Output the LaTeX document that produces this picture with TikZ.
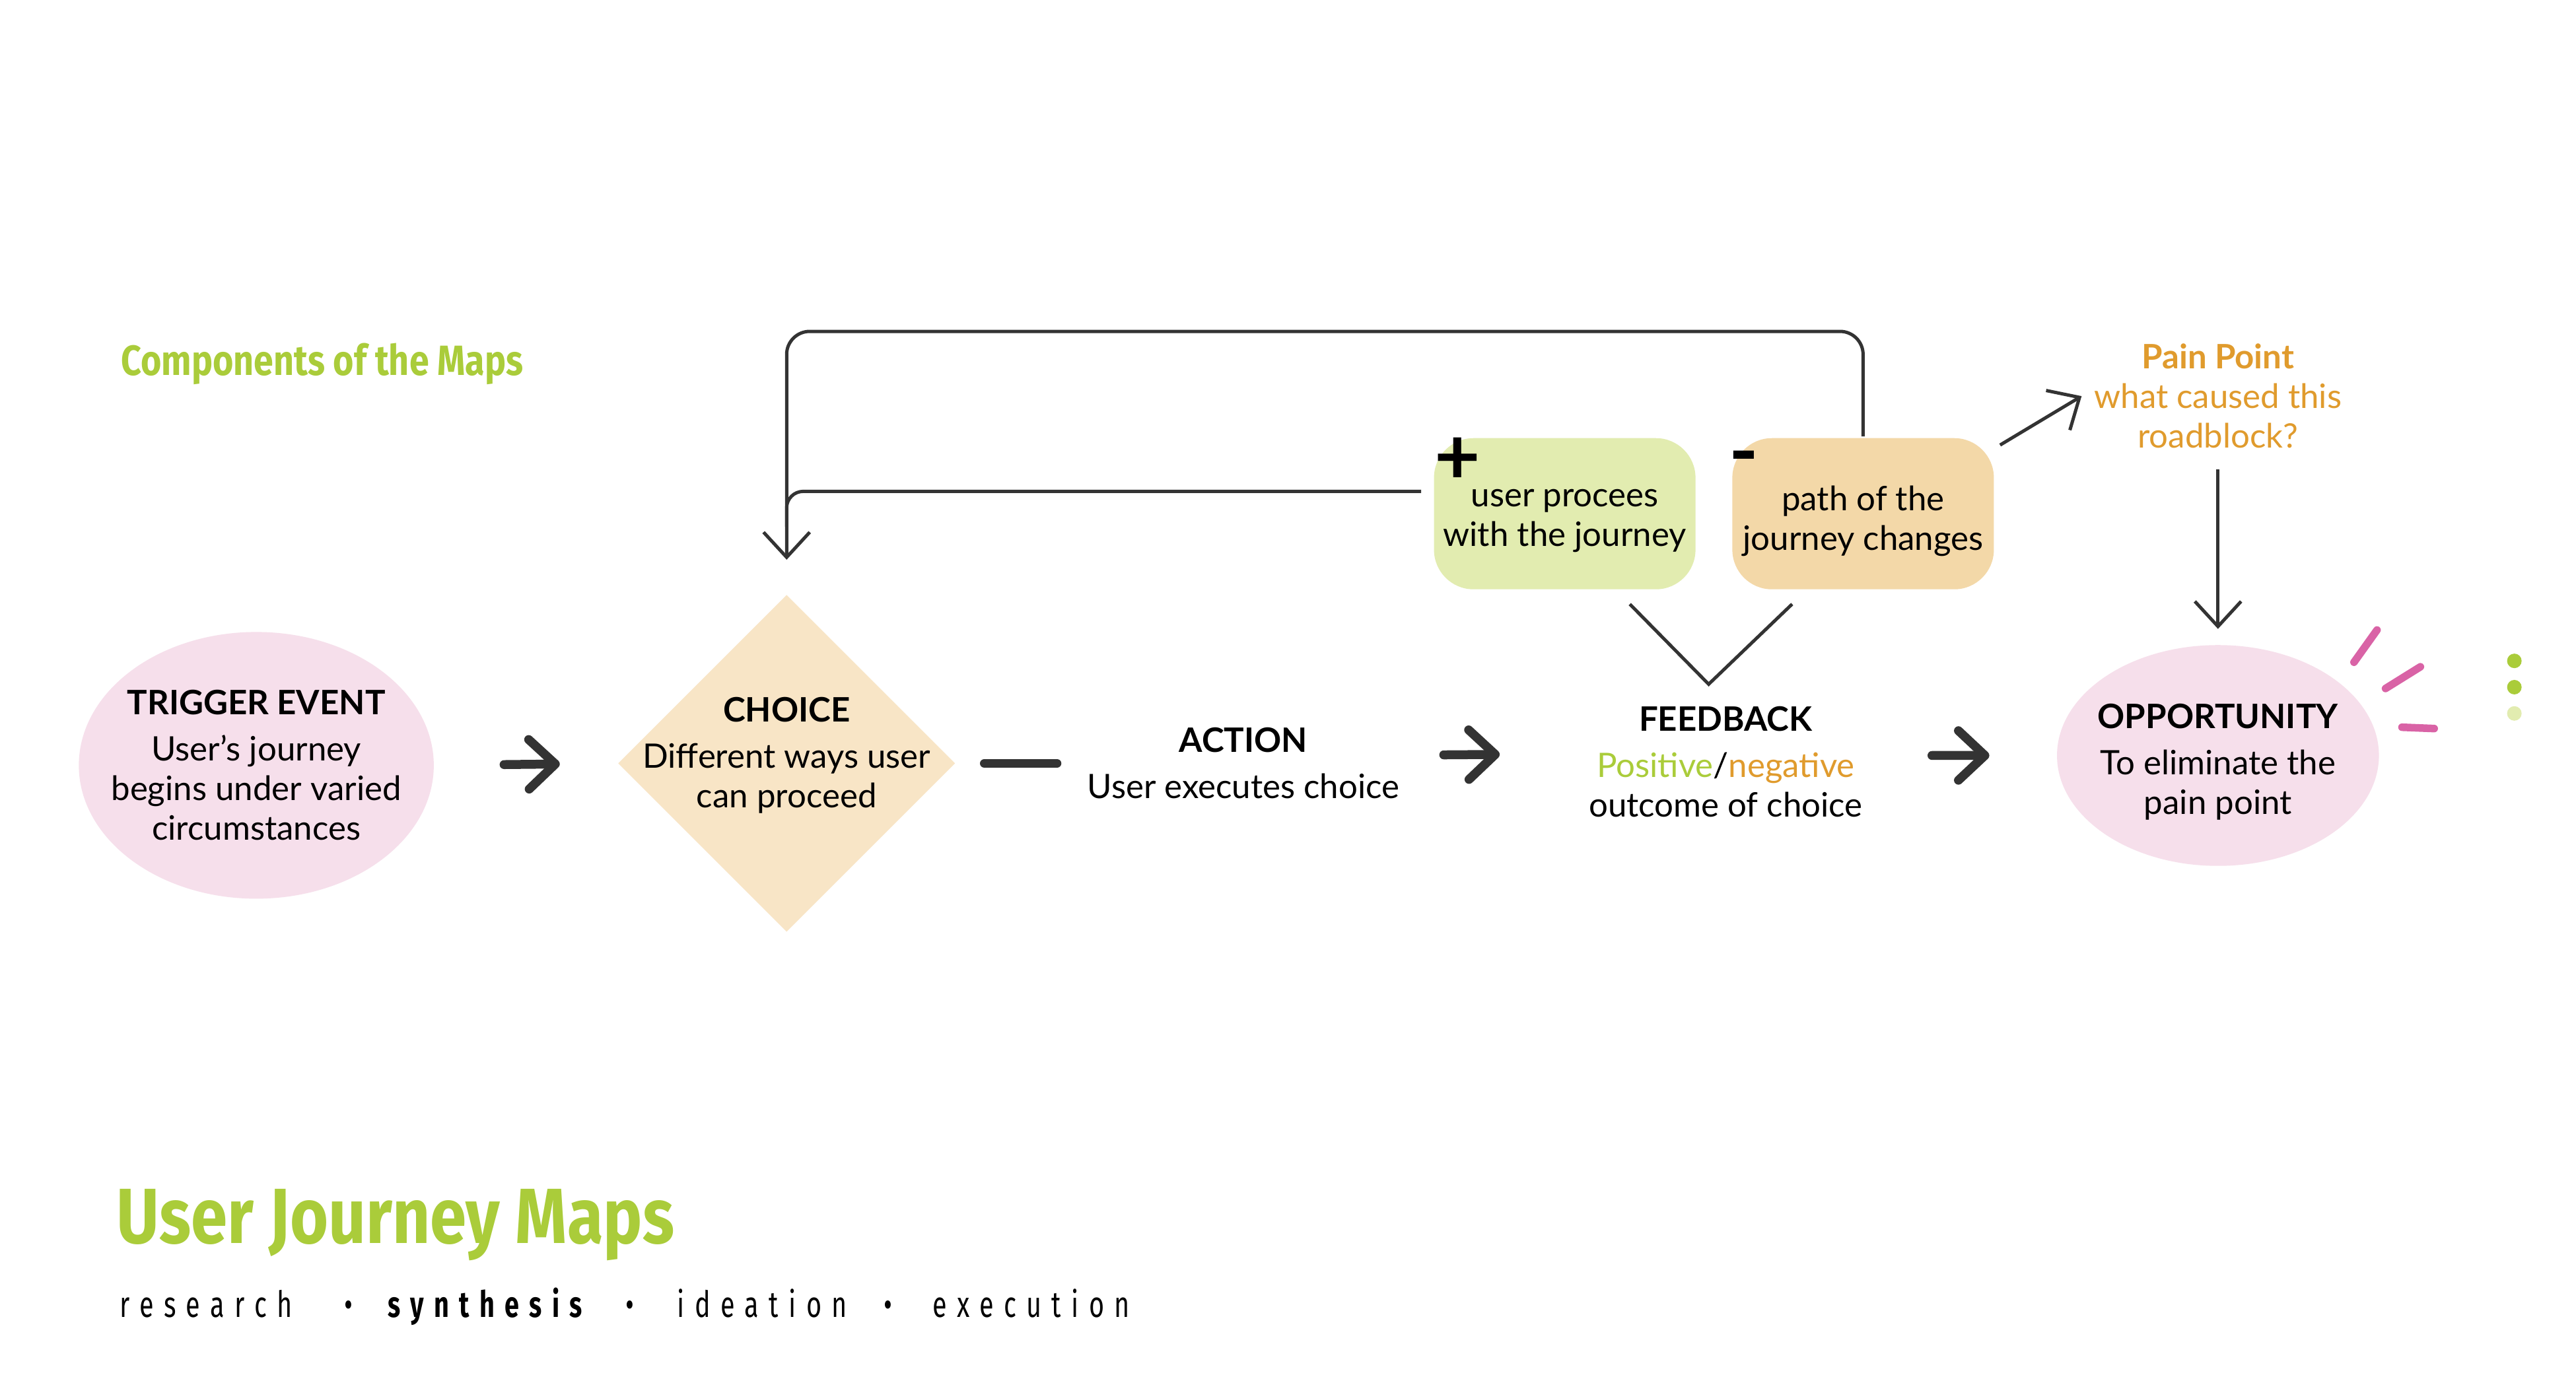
\documentclass[tikz,border=0pt]{standalone}
\usepackage{fontspec}
\setmainfont{Lato}
\newfontfamily\mapsfont[FakeStretch=0.84]{Fira Sans}
\newfontfamily\stepsfont[FakeStretch=0.72,LetterSpace=28]{Fira Sans}
\usetikzlibrary{shapes.geometric,arrows.meta}

\definecolor{mapgreen}{RGB}{170,204,58}
\definecolor{palegreen}{RGB}{226,236,176}
\definecolor{paleorange}{RGB}{243,216,168}
\definecolor{painorange}{RGB}{224,155,45}
\definecolor{choicefill}{RGB}{248,229,198}
\definecolor{blush}{RGB}{246,223,235}
\definecolor{ink}{RGB}{51,51,51}
\definecolor{spark}{RGB}{217,99,166}

\tikzset{every picture/.style={line width=1pt}}
\tikzset{
	body text/.style={font=\fontsize{10.2}{12}\selectfont, align=center},
	event/.style={ellipse, fill=blush, inner sep=0pt},
	choicebox/.style={diamond, fill=choicefill, inner sep=0pt, minimum width=102.4pt, minimum height=102.4pt},
	outcome/.style={rectangle, rounded corners=12pt, minimum width=79.2pt, minimum height=45.8pt, inner sep=0pt},
	thin link/.style={draw=ink, line width=1pt, -{Straight Barb[length=7.6pt,width=14pt]}},
	chevron/.style={draw=ink, line width=2.7pt, line cap=round, -{Straight Barb[length=8pt,width=15pt,round]}},
	dashbar/.style={draw=ink, line width=2.7pt, line cap=round},
	sparkline/.style={draw=spark, line width=2.3pt, line cap=round},
	stage/.style={anchor=base west, inner sep=0pt, font=\stepsfont\fontsize{11}{13}\selectfont},
	stagedot/.style={anchor=base, inner sep=0pt, font=\stepsfont\fontsize{11}{13}\selectfont}
}

\begin{document}
\begin{tikzpicture}[x=0.19904pt,y=0.19904pt,yscale=-1,xscale=1]
	\useasboundingbox (0,0) rectangle (3919.8,2095.1);
	\fill[white] (0,0) rectangle (3919.8,2095.1);

	% Text Node
	\node[anchor=base west, inner sep=0pt, text=mapgreen, font=\mapsfont\bfseries\fontsize{12.8}{15}\selectfont] (components) at (182,571) {Components of the Maps};

	%Shape: Ellipse
	\node[event, minimum width=107.5pt, minimum height=80.8pt, label={[body text]center:{\textbf{TRIGGER EVENT}\\[2pt]User’s journey\\begins under varied\\circumstances}}] (trigger) at (390,1165) {};
	%Shape: Diamond
	\node[choicebox, label={[body text, yshift=2.4pt]center:{\textbf{CHOICE}\\[2pt]Different ways user\\can proceed}}] (choice) at (1197,1162) {};
	% Text Node
	\node[body text, minimum width=100pt] (action) at (1892,1162) {\textbf{ACTION}\\[2pt]User executes choice};
	% Text Node
	\node[body text, minimum width=86pt] (feedback) at (2626,1160) {\textbf{FEEDBACK}\\[2pt]{\color{mapgreen}Positive}/{\color{painorange}negative}\\outcome of choice};
	%Shape: Ellipse
	\node[event, minimum width=97.5pt, minimum height=66.9pt, label={[body text, yshift=-2pt]center:{\textbf{OPPORTUNITY}\\[2pt]To eliminate the\\pain point}}] (opportunity) at (3375,1150) {};

	%Shape: Rounded Rectangle
	\node[outcome, fill=palegreen, label={[body text, yshift=-2.2pt]center:{user procees\\with the journey}}] (proceed) at (2381,782) {};
	%Shape: Rounded Rectangle
	\node[outcome, fill=paleorange, label={[body text, yshift=-2.2pt]center:{path of the\\journey changes}}] (change) at (2835,782) {};
	% Text Node
	\node[inner sep=0pt, font=\bfseries\fontsize{24}{24}\selectfont] (plus) at (2218,702) {+};
	% Text Node
	\node[inner sep=0pt, font=\bfseries\fontsize{24}{24}\selectfont] (minus) at (2654,708) {-};
	% Text Node
	\node[body text, text=painorange] (pain) at (3375,603) {\textbf{Pain Point}\\what caused this\\roadblock?};

	% main flow
	\draw[chevron, shorten <=20.8pt, shorten >=17pt] (trigger.east) -- (choice.west);
	\draw[dashbar, shorten <=8.2pt, shorten >=5.4pt] (choice.east) -- (action.west);
	\draw[chevron, shorten <=9.6pt, shorten >=23.2pt] ([yshift=-2.5pt]action.east) -- ([yshift=-2.5pt]feedback.west);
	\draw[chevron, shorten <=17.2pt, shorten >=20pt] ([yshift=-2pt]feedback.east) -- (opportunity.west);

	% feedback loops
	\draw[thin link, rounded corners=7pt] (change.north) -- ++(0,-160) -| ([yshift=-10pt]choice.north);
	\draw[draw=ink, rounded corners=5pt] ([shift={(-17,-34)}]proceed.west) -| ([yshift=-20pt]choice.north);
	\draw[draw=ink] ([shift={(99,20)}]proceed.south) -- ([shift={(-26,-15)}]feedback.north) -- ([shift={(-108,20)}]change.south);

	% pain point
	\draw[thin link] ([shift={(7,13)}]change.north east) -- (pain.west);
	\draw[thin link, shorten <=2.5pt, shorten >=4.4pt] (pain.south) -- (opportunity.north);

	%Shape: Lines
	\draw[sparkline] (3582,1008) -- (3617,959);
	\draw[sparkline] (3630,1048) -- (3683,1015);
	\draw[sparkline] (3655,1107) -- (3704,1109);
	%Shape: Circle
	\fill[mapgreen] (3826,1006) circle[radius=2.2pt];
	\fill[mapgreen] (3826,1046) circle[radius=2.2pt];
	\fill[palegreen] (3826,1086) circle[radius=2.2pt];

	% Text Node
	\node[anchor=base west, inner sep=0pt, text=mapgreen, font=\mapsfont\bfseries\fontsize{23.7}{27}\selectfont] (title) at (175,1893) {User Journey Maps};
	% Text Node
	\node[stage] (research) at (180,2005) {research};
	\node[stagedot] (dot1) at (530,2005) {•};
	\node[stage] (synthesis) at (588,2005) {\bfseries synthesis};
	\node[stagedot] (dot2) at (959,2005) {•};
	\node[stage] (ideation) at (1028,2005) {ideation};
	\node[stagedot] (dot3) at (1351,2005) {•};
	\node[stage] (execution) at (1417,2005) {execution};

\end{tikzpicture}
\end{document}
